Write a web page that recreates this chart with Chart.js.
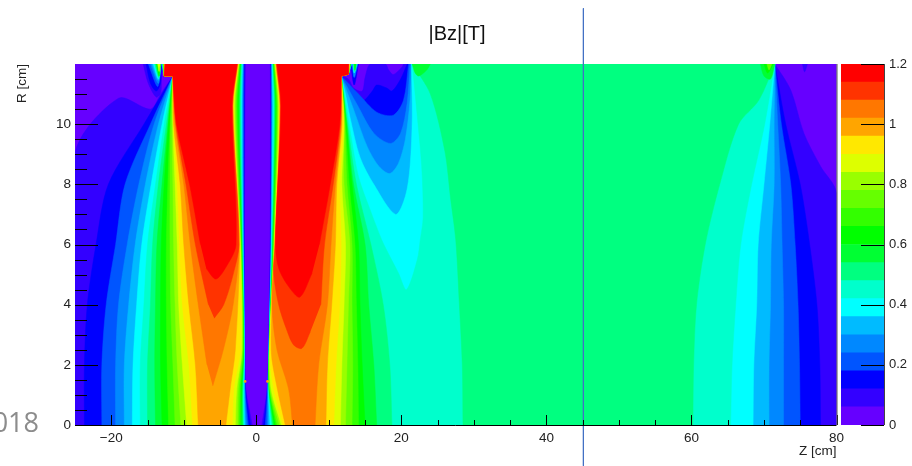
<!DOCTYPE html>
<html>
<head>
<meta charset="utf-8">
<title>|Bz|[T]</title>
<script src="https://cdn.jsdelivr.net/npm/chart.js@4"></script>
<style>
  body { margin: 0; background: #fff; overflow: hidden; }
  canvas { position: absolute; top: 0; }
  #year { position: absolute; right: calc(100% - 39px); top: 403px; font: 27px "Open Sans", sans-serif; color: #8c8c8c; white-space: nowrap; }
  #heading { position: absolute; left: 0; width: 914px; top: 22px; text-align: center; font: 20px "Liberation Sans", Arial, sans-serif; color: #111; }
</style>
</head>
<body>
<canvas id="field" width="912" height="466" style="left:0"></canvas>
<canvas id="palette" width="74" height="466" style="left:838px"></canvas>
<div id="heading">|Bz|[T]</div>
<div id="year">2018</div>
<script>
// contour levels of |Bz| and the colour of the band starting at each one
const bandStarts = [0, 0.06, 0.12, 0.18, 0.24, 0.3, 0.36, 0.42, 0.48, 0.54, 0.6, 0.66, 0.72, 0.78, 0.84, 0.9, 0.96, 1.02, 1.08, 1.14];
const bandColors = ['#6600ff', '#3300ff', '#0000ff', '#0055ff', '#0088ff', '#00bbff', '#00ffff', '#00ffcc', '#00ff80', '#00ff33',
    '#00ff00', '#33ff00', '#66ff00', '#99ff00', '#ddff00', '#ffe800', '#ffa500', '#ff7700', '#ff3300', '#ff0000'];
const bandTop = 1.2;

const xMajor = [-20, 0, 20, 40, 60, 80];
const xMinor = [-15, -10, -5, 5, 10, 15, 25, 30, 35, 45, 50, 55, 65, 70, 75];
const yMajor = [0, 2, 4, 6, 8, 10];
const yMinor = [0.5, 1, 1.5, 2.5, 3, 3.5, 4.5, 5, 5.5, 6.5, 7, 7.5, 8.5, 9, 9.5, 10.5, 11, 11.5];
const paletteTicks = [0, 0.2, 0.4, 0.6, 0.8, 1, 1.2];

// the three points where all contours meet
const poleLeft = [-11.5, 11.6];
const poleRight = [11.7, 11.6];
const poleFar = [71.5, 12];

// Z of each contour on the outer side of the two humps, one row per level from 0.12 up, at these R
const flankRows = [0, 2, 4, 6, 8, 10];
const leftFlank06 = [[-25, 0], [-25, 9], [-19, 10.86], [-14.6, 10.5], [-13.2, 11]];
const leftFlank = [
    [-23.7, -23.7, -23.3, -22.1, -20.4, -15.5],
    [-21.3, -21.3, -20.7, -19.4, -18.1, -14.6],
    [-19.4, -19.4, -19.0, -17.8, -16.2, -14.1],
    [-18.2, -18.2, -17.6, -16.7, -15.3, -13.5],
    [-17.1, -17.0, -16.5, -15.8, -14.5, -13.0],
    [-16.0, -16.0, -15.5, -15.0, -13.9, -12.7],
    [-15.0, -15.0, -14.6, -14.3, -13.5, -12.4],
    [-13.9, -14.0, -13.9, -13.7, -13.0, -12.2],
    [-13.0, -13.2, -13.2, -13.1, -12.7, -12.1],
    [-12.1, -12.3, -12.4, -12.4, -12.2, -11.9],
    [-11.2, -11.5, -11.8, -11.9, -11.9, -11.8],
    [-10.4, -10.9, -11.2, -11.4, -11.5, -11.6],
    [-9.6, -10.2, -10.7, -10.9, -11.2, -11.5],
    [-8.8, -9.3, -10.2, -10.6, -10.9, -11.4],
    [-8.0, -8.4, -9.3, -10.0, -10.5, -11.4],
    [null, -6.8, -8.0, -9.1, -10.0, -11.2],
    [null, null, -6.6, -8.4, -9.7, -11.1],
    [null, null, null, -7.7, -9.2, -11.0]
];
// levels 0.48 and up, second hump, same rows
const rightFlank = [
    [18.7, 18.4, 17.5, 15.8, 13.8, 12.6],
    [16.6, 16.2, 15.5, 15.0, 13.4, 12.5],
    [15.0, 14.6, 14.3, 14.1, 13.2, 12.4],
    [14.1, 14.0, 13.8, 13.6, 12.8, 12.3],
    [13.2, 13.3, 13.2, 13.2, 12.5, 12.2],
    [12.3, 12.5, 12.7, 12.9, 12.1, 12.1],
    [11.6, 11.8, 12.1, 12.3, 11.8, 12.1],
    [10.7, 11.0, 11.5, 11.7, 11.5, 12.0],
    [9.6, 9.8, 10.4, 10.9, 11.1, 11.8],
    [8.1, 8.6, 9.8, 10.3, 10.9, 11.7],
    [null, null, 8.9, 9.4, 10.6, 11.6],
    [null, null, null, 8.7, 10.2, 11.5]
];
// levels 0.12 to 0.42 on the falling side near Z = 70
const farFlank06 = [[73.7, 11.13], [75.5, 9.7], [77.8, 8.6], [80, 7.7], [80, 0]];
const farFlank = [
    [77.8, 77.7, 77.3, 76.3, 75.0, 73.0],
    [75.0, 74.9, 74.7, 74.3, 73.7, 72.4],
    [72.7, 72.7, 72.7, 72.5, 72.3, 71.9],
    [70.7, 70.7, 70.9, 71.0, 71.4, 71.4],
    [68.5, 68.6, 69.0, 69.2, 70.0, 70.8],
    [65.4, 65.6, 66.1, 66.8, 68.3, 70.1]
];

// Z of the steep central walls, one row per level from 0.06 up, at these R
const wallRows = [0, 1.2, 2.5, 6, 10.6, 12];
const leftWall = [
    [-0.55, -1.45, -1.59, -1.63, -1.56, -1.5],
    [-0.8, -1.5, -1.6, -1.68, -1.66, -1.66],
    [-1.1, -1.55, -1.61, -1.72, -1.75, -1.72],
    [-1.3, -1.6, -1.63, -1.77, -1.83, -1.8],
    [-1.5, -1.65, -1.64, -1.8, -1.93, -1.86],
    [-1.65, -1.7, -1.65, -1.86, -2.03, -1.93],
    [-1.75, -1.8, -1.68, -1.9, -2.1, -2],
    [-1.8, -1.85, -1.71, -1.94, -2.2, -2.07],
    [-1.9, -1.95, -1.74, -1.99, -2.34, -2.14],
    [-2.1, -2, -1.77, -2.03, -2.48, -2.2],
    [-2.2, -2.15, -1.8, -2.07, -2.62, -2.28],
    [-2.4, -2.3, -1.85, -2.12, -2.76, -2.34],
    [-2.6, -2.5, -1.95, -2.17, -2.9, -2.39],
    [-2.9, -2.7, -2, -2.2, -3.03, -2.44],
    [-3.3, -3.1, -2.2, -2.26, -3.14, -2.48],
    [-4.2, -3.6, -2.9, -2.32, -3.2, -2.54],
    [null, null, null, -2.37, -3.27, -2.58],
    [null, null, null, -2.4, -3.3, -2.62],
    [null, null, null, -2.8, -3.35, -2.66]
];
const rightWall = [
    [0.76, 1.5, 1.7, 1.9, 1.95, 1.93],
    [1.0, 1.53, 1.72, 1.95, 2.05, 2.0],
    [1.24, 1.56, 1.73, 2, 2.1, 2.05],
    [1.5, 1.6, 1.74, 2.03, 2.15, 2.1],
    [1.7, 1.63, 1.75, 2.07, 2.2, 2.15],
    [1.9, 1.66, 1.76, 2.1, 2.3, 2.2],
    [2.07, 1.69, 1.77, 2.15, 2.4, 2.25],
    [2.2, 1.72, 1.78, 2.2, 2.5, 2.3],
    [2.35, 1.75, 1.79, 2.25, 2.6, 2.35],
    [2.5, 1.78, 1.8, 2.3, 2.7, 2.4],
    [2.7, 1.8, 1.81, 2.35, 2.8, 2.45],
    [2.9, 1.86, 1.82, 2.4, 2.9, 2.5],
    [3.2, 1.93, 1.83, 2.45, 3, 2.55],
    [3.45, 2.05, 1.84, 2.5, 3.1, 2.6],
    [3.7, 2.4, 1.85, 2.52, 3.2, 2.65],
    [4.0, 2.9, 2.05, 2.55, 3.25, 2.7],
    [null, null, null, 2.58, 3.3, 2.75],
    [null, null, null, 2.6, 3.35, 2.8],
    [null, null, null, 2.65, 3.4, 2.85]
];

// rounded ends of the top three levels (they do not reach R = 0)
const leftTip102 = [[-3.2, 4], [-4.55, 2.5], [-6, 1.3]];
const leftTip108 = [[-3.2, 5], [-4.5, 4], [-5.8, 3.55]];
const leftTip114 = [[-4.3, 5.2], [-5.6, 4.85], [-6.9, 5.2]];
const rightTip102 = [[5, 0], [4.45, 1.2], [2.85, 2.5], [2.16, 4]];
const rightTip108 = [[7.45, 3.1], [6.3, 2.55], [5.15, 2.66], [4.2, 3.16], [3.08, 4], [2.4, 5.05]];
const rightTip114 = [[7.7, 5.05], [6, 4.25], [4.46, 4.6], [3.1, 5.2]];

// the low region above the second hump, levels 0.06 to 0.42
const dip06 = [[12.7, 11.5], [13.4, 11.2], [14.6, 11.1], [15, 11.55], [15.7, 12], [17.8, 12], [18.25, 11.8], [18.9, 11.65], [20.1, 11.9], [20.3, 12]];
const dip12 = [[13.7, 11], [14.6, 10.75], [16, 11.1], [16.6, 11.3], [18, 11.2], [18.7, 11.1], [19.9, 11.5], [20.8, 12]];
const dip18 = [[14.1, 11], [16.6, 10.4], [18.9, 10.3], [20.3, 10.8], [21, 12]];
const dip24 = [[13.9, 10.65], [16.2, 9.7], [18.5, 9.36], [19.9, 9.7], [20.8, 10.7], [21.2, 12]];
const dip30 = [[13.4, 10.5], [15.3, 9.25], [16.9, 8.6], [18.4, 8.36], [19.6, 8.7], [20.55, 9.5], [21.2, 10.8], [21.4, 12]];
const dip36 = [[12.3, 11], [12.9, 10.25], [14.3, 8.9], [16.2, 8], [19.2, 7], [20.55, 7.6], [21.2, 8.6], [21.5, 10.25], [21.4, 12]];
const dip42 = [[12.3, 10.8], [13, 9.7], [14.1, 8.25], [15.7, 7.15], [17.3, 6.15], [18, 5.8], [19.6, 5.05], [20.7, 4.5], [22.2, 5.5], [22.6, 6.15], [23, 6.9], [22.8, 8.6], [22.2, 10.25], [21.5, 12]];
const dips = [dip06, dip12, dip18, dip24, dip30, dip36, dip42];

// plateau of 0.48 between Z = 28 and Z = 60
const plateauLeft = [[28.5, 0], [28.4, 2], [28, 4], [27.5, 6.15], [26.8, 7.5], [26, 9.1], [24, 11], [21.5, 12]];
const plateauRight = [[69.3, 10.8], [66.5, 10], [63.9, 8], [61.9, 6], [60.7, 4], [60.3, 2], [60.2, 0]];

// thin spikes hanging from the top edge: [level index, outline]
const spikes = [
    [0, [[-15.6, 12], [-14.9, 11.36], [-13.8, 10.9], [-13.2, 11.03], [-13.1, 11.36], [-13.1, 12]]],
    [1, [[-15.2, 12], [-14.6, 11.36], [-13.8, 11.1], [-13.2, 11.36], [-13.1, 12]]],
    [2, [[-14.9, 12], [-13.6, 11.25], [-13.15, 12]]],
    [3, [[-14.6, 12], [-13.5, 11.35], [-13.15, 12]]],
    [4, [[-14.4, 12], [-13.5, 11.45], [-13.15, 12]]],
    [5, [[-14.2, 12], [-13.5, 11.5], [-13.15, 12]]],
    [7, [[-14, 12], [-13.45, 11.55], [-13.2, 12]]],
    [9, [[-13.8, 12], [-13.4, 11.6], [-13.2, 12]]],
    [13, [[-13.6, 12], [-13.4, 11.75], [-13.25, 12]]],
    [1, [[13, 12], [13.5, 11.3], [14.1, 12]]],
    [3, [[13.2, 12], [13.5, 11.55], [14, 12]]],
    [5, [[13.3, 12], [13.5, 11.7], [13.9, 12]]],
    [7, [[13.4, 12], [13.55, 11.75], [13.8, 12]]],
    [9, [[13.5, 12], [13.6, 11.8], [13.75, 12]]],
    [8, [[21.5, 12], [21.9, 11.7], [22.4, 11.6], [23.5, 11.8], [24, 12]]],
    [8, [[69.5, 12], [70, 11.6], [70.9, 11.5], [71.5, 12]]],
    [9, [[70, 12], [70.5, 11.7], [71.3, 12]]],
    [11, [[70.4, 12], [70.7, 11.8], [71.1, 12]]],
    [0, [[75.3, 12], [75.6, 11.74], [76, 12]]]
];
const stripSpecks = [[-1.55, 1.45], [1.55, 1.45]];
const slideLineZ = 45.1;
const slideLineEnds = [13.85, -1.36];

const toPoints = list => list.map(p => ({ x: p[0], y: p[1] }));
const pickRows = (row, rows) => row.map((z, k) => [z, rows[k]]).filter(p => p[0] !== null);
// a point given twice stops the spline from rounding (and overshooting) that corner
const sharp = p => [p, p];

function firstHump(i) {
    const flank = i === 0 ? leftFlank06 : pickRows(leftFlank[i - 1], flankRows);
    const topZ = -12.55 - (18 - i) * 0.03;
    const wall = pickRows(leftWall[i], wallRows).reverse();
    const tip = i === 16 ? leftTip102 : i === 17 ? leftTip108 : i === 18 ? leftTip114 : [];
    return [...flank, ...sharp(poleLeft), ...sharp([-12.7, 11.6]), ...sharp([topZ, 12]), wall[0], ...wall, ...tip];
}

function secondHump(i) {
    const tip = i === 16 ? rightTip102 : i === 17 ? rightTip108 : i === 18 ? rightTip114 : [];
    const wall = pickRows(rightWall[i], wallRows);
    const topZ = 12.7 + (18 - i) * 0.03;
    const start = [...tip, ...wall, wall[wall.length - 1], ...sharp([topZ, 12]), ...sharp([12.7, 11.66]), ...sharp(poleRight)];
    if (i >= 7) {
        return [...start, ...pickRows(rightFlank[i - 7], flankRows).reverse()];
    }
    const far = i === 0 ? farFlank06 : pickRows(farFlank[i - 1], flankRows).reverse();
    return [...start, ...dips[i], dips[i][dips[i].length - 1], ...sharp(poleFar), ...far];
}

function bandDataset(points, color, drawOrder) {
    return {
        data: toPoints(points), showLine: true, fill: 'shape', tension: 0.3,
        backgroundColor: color, borderColor: color, borderWidth: 0.5, pointRadius: 0, order: drawOrder
    };
}

const fieldSets = [bandDataset([[-25, 0], [-25, 12], [80, 12], [80, 0]], bandColors[0], 100)];
fieldSets[0].tension = 0;
bandStarts.slice(1).forEach((start, i) => {
    const color = bandColors[i + 1];
    fieldSets.push(bandDataset(firstHump(i), color, 50 - i));
    fieldSets.push(bandDataset(secondHump(i), color, 50 - i));
    if (i === 7) {
        fieldSets.push(bandDataset([...plateauLeft, plateauLeft[7], ...sharp(poleFar), ...plateauRight], color, 50 - i));
    }
    spikes.filter(s => s[0] === i).forEach(s => fieldSets.push(bandDataset(s[1], color, 50 - i)));
});
fieldSets.push({
    data: toPoints(stripSpecks), showLine: false, backgroundColor: '#ffa500', pointRadius: 1.4, borderWidth: 0, order: 2
});
fieldSets.push({
    data: slideLineEnds.map(r => ({ x: slideLineZ, y: r })), showLine: true, clip: false,
    borderColor: '#4472c4', borderWidth: 1, pointRadius: 0, order: 1
});

const labelFont = { family: '"Liberation Sans", Arial, sans-serif', size: 13.5 };
const formatTick = v => String(v).replace('-', '\u2212');

const fieldTicks = {
    id: 'fieldTicks',
    afterDatasetsDraw(chart) {
        const { ctx, chartArea: a, scales: { x, y } } = chart;
        ctx.save();
        ctx.strokeStyle = '#000';
        ctx.lineWidth = 1;
        const seg = (x1, y1, x2, y2) => {
            ctx.beginPath();
            ctx.moveTo(x1, y1);
            ctx.lineTo(x2, y2);
            ctx.stroke();
        };
        yMajor.forEach(v => { const p = Math.round(y.getPixelForValue(v)) + 0.5; seg(a.left, p, a.left + 23, p); });
        yMinor.forEach(v => { const p = Math.round(y.getPixelForValue(v)) + 0.5; seg(a.left, p, a.left + 12, p); });
        xMajor.forEach(v => { const p = Math.round(x.getPixelForValue(v)) + 0.5; seg(p, a.bottom, p, a.bottom - 10); });
        xMinor.forEach(v => { const p = Math.round(x.getPixelForValue(v)) + 0.5; seg(p, a.bottom, p, a.bottom - 5); });
        seg(a.left, a.bottom + 0.5, a.right, a.bottom + 0.5);
        ctx.strokeStyle = '#555';
        seg(a.right + 0.5, a.top, a.right + 0.5, a.bottom);
        ctx.restore();
    }
};

new Chart(document.getElementById('field').getContext('2d'), {
    type: 'scatter',
    data: { datasets: fieldSets },
    plugins: [fieldTicks],
    options: {
        responsive: false,
        animation: false,
        layout: { padding: { top: 64, right: 75.5, bottom: 0, left: 0 } },
        plugins: {
            legend: { display: false },
            tooltip: { enabled: false }
        },
        scales: {
            x: {
                type: 'linear', min: -25, max: 80,
                afterBuildTicks: s => { s.ticks = xMajor.map(v => ({ value: v })); },
                afterFit: s => { s.height = 41; },
                grid: { display: false, drawTicks: false },
                border: { display: false },
                ticks: { font: labelFont, color: '#222', padding: 5, maxRotation: 0, autoSkip: false, callback: formatTick },
                title: { display: true, text: 'Z [cm]', align: 'end', color: '#222', font: { family: labelFont.family, size: 13.5 }, padding: { top: 0, bottom: 7 } }
            },
            y: {
                type: 'linear', min: 0, max: 12,
                afterBuildTicks: s => { s.ticks = yMajor.map(v => ({ value: v })); },
                afterFit: s => { s.width = 75; },
                grid: { display: false, drawTicks: false },
                border: { display: false },
                ticks: { font: labelFont, color: '#222', padding: 4, autoSkip: false, callback: formatTick },
                title: { display: true, text: 'R [cm]', align: 'end', color: '#222', font: { family: labelFont.family, size: 13.5 }, padding: { top: 14, bottom: 0 } }
            }
        }
    }
});

const paletteMarks = {
    id: 'paletteMarks',
    afterDatasetsDraw(chart) {
        const { ctx, chartArea: a, scales: { y } } = chart;
        ctx.save();
        ctx.strokeStyle = '#000';
        ctx.lineWidth = 1;
        paletteTicks.forEach(v => {
            const p = Math.min(Math.round(y.getPixelForValue(v)), 465) + 0.5;
            ctx.beginPath();
            ctx.moveTo(a.right, p);
            ctx.lineTo(a.right - 23, p);
            ctx.stroke();
        });
        ctx.strokeStyle = '#444';
        ctx.beginPath();
        ctx.moveTo(a.right + 0.5, a.top);
        ctx.lineTo(a.right + 0.5, a.bottom);
        ctx.stroke();
        ctx.restore();
    }
};

new Chart(document.getElementById('palette').getContext('2d'), {
    type: 'bar',
    data: {
        labels: [''],
        datasets: bandStarts.map((start, i) => ({
            data: [[start, i + 1 < bandStarts.length ? bandStarts[i + 1] : bandTop]],
            backgroundColor: bandColors[i],
            barPercentage: 1,
            categoryPercentage: 1,
            grouped: false
        }))
    },
    plugins: [paletteMarks],
    options: {
        responsive: false,
        animation: false,
        layout: { padding: { top: 64, right: 0, bottom: 41, left: 3 } },
        plugins: { legend: { display: false }, tooltip: { enabled: false } },
        scales: {
            x: { display: false },
            y: {
                position: 'right', min: 0, max: bandTop,
                afterBuildTicks: s => { s.ticks = paletteTicks.map(v => ({ value: v })); },
                afterFit: s => { s.width = 28; },
                grid: { display: false, drawTicks: false },
                border: { display: false },
                ticks: { font: { family: labelFont.family, size: 13 }, color: '#222', padding: 5, autoSkip: false, callback: v => String(v) }
            }
        }
    }
});
</script>
</body>
</html>
